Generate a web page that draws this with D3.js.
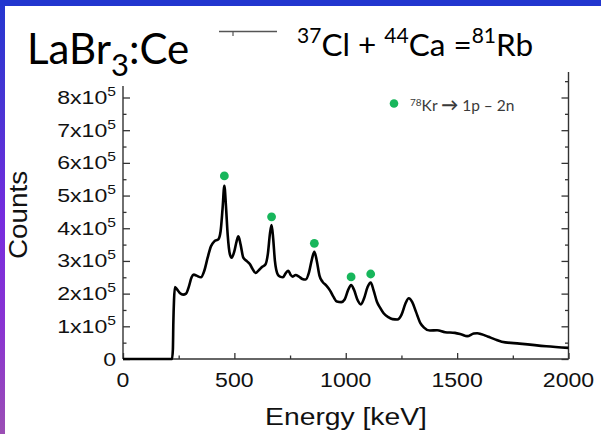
<!DOCTYPE html>
<html>
<head>
<meta charset="utf-8">
<script src="https://cdn.jsdelivr.net/npm/d3@7"></script>
<style>
  html, body { margin: 0; padding: 0; background: #fff; overflow: hidden; }
  svg { display: block; }
</style>
</head>
<body>
<svg id="chart" width="601" height="434"></svg>
<script>
// Gamma spectrum: 37Cl + 44Ca -> 81Rb, LaBr3:Ce detector
const energyKeV = [0, 220, 224, 226, 229, 233, 240, 255, 270, 283, 295, 308, 318, 330, 350, 365, 380, 395, 410, 428,
  438, 447, 455, 462, 470, 480, 488, 500, 510, 518, 528, 540, 555, 570, 582, 595, 610, 625, 640, 650,
  660, 667, 674, 682, 695, 705, 718, 730, 742, 752, 762, 775, 790, 805, 820, 835, 848, 859, 870, 882,
  896, 912, 929, 945, 960, 980, 995, 1010, 1024, 1038, 1052, 1068, 1082, 1098, 1112, 1125, 1140, 1154, 1170, 1191,
  1210, 1232, 1250, 1268, 1283, 1298, 1315, 1335, 1350, 1378, 1410, 1446, 1490, 1520, 1545, 1575, 1590, 1610, 1640, 1670,
  1700, 1780, 1900, 2000];
const counts = [0, 0, 30000, 110000, 180000, 220000, 215000, 202000, 197000, 200000, 220000, 250000, 258000, 255000, 250000, 270000, 310000, 345000, 360000, 366000,
  390000, 460000, 530000, 470000, 380000, 320000, 310000, 330000, 360000, 375000, 350000, 310000, 300000, 290000, 275000, 263000, 272000, 282000, 290000, 320000,
  385000, 410000, 370000, 300000, 258000, 252000, 250000, 262000, 270000, 258000, 252000, 257000, 252000, 245000, 243000, 265000, 305000, 328000, 300000, 255000,
  236000, 225000, 210000, 190000, 176000, 174000, 182000, 210000, 226000, 210000, 182000, 167000, 185000, 220000, 234000, 210000, 175000, 157000, 140000, 128000,
  122000, 121000, 135000, 170000, 186000, 175000, 145000, 110000, 97000, 87000, 88000, 82000, 80000, 75000, 70000, 78000, 79000, 76000, 68000, 60000,
  53000, 47000, 39000, 34000];

// 78Kr (1p-2n channel) lines, marked above the peaks
const krLineKeV = [455, 667, 859, 1024, 1112];
const krMarkerCounts = [560000, 435000, 354000, 251000, 260000];

const xMajorTicks = [0, 500, 1000, 1500, 2000];
const xMinorTicks = [250, 750, 1250, 1750];
const yMajorTicks = [0, 100000, 200000, 300000, 400000, 500000, 600000, 700000, 800000];
const yMinorTicks = [50000, 150000, 250000, 350000, 450000, 550000, 650000, 750000];
const yMinorTicksRight = [50000, 150000, 250000, 350000, 450000, 550000, 650000, 750000, 850000];
const yTickMantissa = ["0", "1", "2", "3", "4", "5", "6", "7", "8"];
const yLeftAxisTop = 835000;
const yRightAxisTop = 878000;

const GREEN = "#17b65b";
const AXIS = "#333";
const SANS = "'Liberation Sans', Arial, sans-serif";
const TITLE_FONT = "Lato, 'Open Sans', sans-serif";

const svg = d3.select("#chart");

// slide frame: gradient bar on the left, blue band on top
const defs = svg.append("defs");
const grad = defs.append("linearGradient").attr("id", "sideBar")
  .attr("x1", 0).attr("y1", 0).attr("x2", 0).attr("y2", 1);
[["0%", "#2236cf"], ["25%", "#4a34d4"], ["50%", "#762cde"], ["75%", "#8a33d2"], ["100%", "#9b4fb4"]]
  .forEach(([o, c]) => grad.append("stop").attr("offset", o).attr("stop-color", c));
svg.append("rect").attr("x", 0).attr("y", 0).attr("width", 601).attr("height", 434).attr("fill", "#fff");
svg.append("rect").attr("x", 0).attr("y", 0).attr("width", 5).attr("height", 434).attr("fill", "url(#sideBar)");
svg.append("rect").attr("x", 0).attr("y", 0).attr("width", 601).attr("height", 6).attr("fill", "#2236cf");

const x = d3.scaleLinear().domain([0, 2000]).range([123, 568.5]);
const y = d3.scaleLinear().domain([0, 800000]).range([359, 97.5]);

// stretched text helper (wide sans glyphs)
function label(parent, px, py, sx, anchor, size, family) {
  return parent.append("g")
    .attr("transform", `translate(${px},${py}) scale(${sx},1)`)
    .append("text")
    .attr("text-anchor", anchor)
    .attr("font-family", family || SANS)
    .attr("font-size", size)
    .attr("fill", "#111");
}

// axes
function styleAxis(g) {
  g.selectAll("path.domain").remove();
  g.selectAll(".tick line").attr("stroke", AXIS).attr("stroke-width", 1.3);
  g.selectAll(".tick text").remove();
}
svg.append("g").attr("transform", `translate(0,${y(0)})`)
  .call(d3.axisBottom(x).tickValues(xMajorTicks).tickSize(-6).tickFormat("")).call(styleAxis);
svg.append("g").attr("transform", `translate(0,${y(0)})`)
  .call(d3.axisBottom(x).tickValues(xMinorTicks).tickSize(-3.5).tickFormat("")).call(styleAxis);
svg.append("g").attr("transform", `translate(${x(0)},0)`)
  .call(d3.axisLeft(y).tickValues(yMajorTicks).tickSize(-7).tickFormat("")).call(styleAxis);
svg.append("g").attr("transform", `translate(${x(0)},0)`)
  .call(d3.axisLeft(y).tickValues(yMinorTicks).tickSize(-3.5).tickFormat("")).call(styleAxis);
svg.append("g").attr("transform", `translate(${x(2000)},0)`)
  .call(d3.axisRight(y).tickValues(yMajorTicks).tickSize(-7).tickFormat("")).call(styleAxis);
svg.append("g").attr("transform", `translate(${x(2000)},0)`)
  .call(d3.axisRight(y).tickValues(yMinorTicksRight).tickSize(-3.5).tickFormat("")).call(styleAxis);

svg.append("line").attr("x1", x(0)).attr("x2", x(2000)).attr("y1", y(0)).attr("y2", y(0))
  .attr("stroke", AXIS).attr("stroke-width", 1.4);
svg.append("line").attr("x1", x(0)).attr("x2", x(0)).attr("y1", y(0)).attr("y2", y(yLeftAxisTop))
  .attr("stroke", AXIS).attr("stroke-width", 1.4);
svg.append("line").attr("x1", x(2000)).attr("x2", x(2000)).attr("y1", y(0)).attr("y2", y(yRightAxisTop))
  .attr("stroke", AXIS).attr("stroke-width", 1.4);

// tick labels
xMajorTicks.forEach(v => label(svg, x(v), 386.5, 1.1, "middle", 21).text(v));
yMajorTicks.forEach((v, i) => {
  const t = label(svg, 116, y(v) + 6.5, 1.25, "end", 18.5);
  if (v === 0) { t.text("0"); return; }
  t.append("tspan").text(yTickMantissa[i] + "x10");
  t.append("tspan").attr("font-size", 12.5).attr("dy", -8).text("5");
});

// axis titles
label(svg, 346, 425, 1.23, "middle", 23).text("Energy [keV]");
svg.append("g").attr("transform", "translate(27,215) rotate(-90) scale(1.07,1)")
  .append("text").attr("text-anchor", "middle").attr("font-family", SANS)
  .attr("font-size", 26).attr("fill", "#111").text("Counts");

// spectrum
const spectrum = energyKeV.map((e, i) => [e, counts[i]]);
svg.append("path").datum(spectrum)
  .attr("fill", "none").attr("stroke", "#000").attr("stroke-width", 2.6)
  .attr("stroke-linejoin", "round")
  .attr("d", d3.line().x(d => x(d[0])).y(d => y(d[1])).curve(d3.curveMonotoneX));

// 78Kr markers
svg.selectAll("circle.kr").data(krLineKeV).join("circle").attr("class", "kr")
  .attr("cx", d => x(d)).attr("cy", (d, i) => y(krMarkerCounts[i])).attr("r", 4.4)
  .attr("fill", GREEN);

// legend inside plot
svg.append("circle").attr("cx", 394).attr("cy", 103.5).attr("r", 4.3).attr("fill", GREEN);
const lg = svg.append("text").attr("x", 410).attr("y", 111)
  .attr("font-family", TITLE_FONT).attr("font-size", 15.5).attr("fill", "#3a3a3a");
lg.append("tspan").attr("font-size", 10).attr("dy", -5).text("78");
lg.append("tspan").attr("dy", 5).text("Kr ");
lg.append("tspan").attr("font-weight", "bold").attr("font-size", 17).text("\u2192");
lg.append("tspan").text(" 1p \u2013 2n");

// headline
const title = svg.append("text").attr("x", 27).attr("y", 64)
  .attr("font-family", TITLE_FONT).attr("font-size", 42).attr("fill", "#000");
title.append("tspan").text("LaBr");
title.append("tspan").attr("font-size", 31).attr("dy", 12).text("3");
title.append("tspan").attr("dy", -12).text(":Ce");

// reaction legend
svg.append("line").attr("x1", 219).attr("x2", 277).attr("y1", 31.5).attr("y2", 31.5)
  .attr("stroke", "#555").attr("stroke-width", 1.4);
svg.append("line").attr("x1", 233).attr("x2", 233).attr("y1", 31.5).attr("y2", 36)
  .attr("stroke", "#555").attr("stroke-width", 1.2);
const rx = svg.append("text").attr("x", 297).attr("y", 56)
  .attr("font-family", TITLE_FONT).attr("font-size", 31.5).attr("fill", "#000");
rx.append("tspan").attr("font-size", 21).attr("dy", -13).text("37");
rx.append("tspan").attr("dy", 13).text("Cl + ");
rx.append("tspan").attr("font-size", 21).attr("dy", -13).text("44");
rx.append("tspan").attr("dy", 13).text("Ca =");
rx.append("tspan").attr("font-size", 21).attr("dy", -13).text("81");
rx.append("tspan").attr("dy", 13).text("Rb");
</script>
</body>
</html>
